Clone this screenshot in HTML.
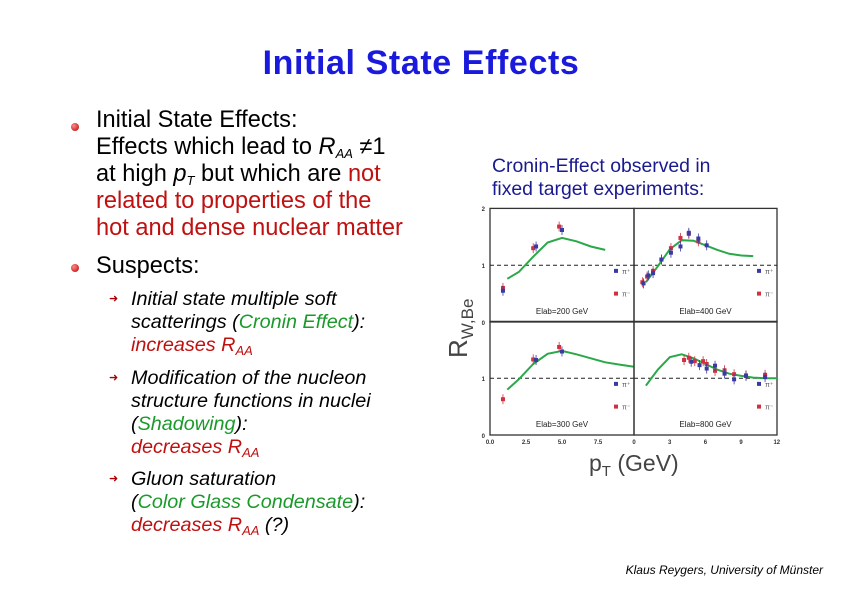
<!DOCTYPE html>
<html><head><meta charset="utf-8"><style>
body{margin:0;width:842px;height:595px;background:#fff;position:relative;overflow:hidden;font-family:"Liberation Sans",sans-serif}
.a{position:absolute;white-space:nowrap}
.m{font-size:23.6px;color:#000;line-height:27px}
.s{font-size:19.8px;font-style:italic;line-height:23px}
.r{color:#c01010}.g{color:#1a9a2a}
sub{font-size:13px;vertical-align:-4px;line-height:0}
.dot{position:absolute;width:8px;height:8px;border-radius:50%;background:radial-gradient(circle at 35% 35%,#f88,#b00)}
.arr{position:absolute;font-size:11px;color:#a00;font-style:normal}
</style></head><body>
<div class="a" style="left:0;width:842px;text-align:center;top:44px;font-size:34px;font-weight:bold;color:#1a1adc;letter-spacing:0.6px">Initial State Effects</div>
<div class="dot" style="left:71px;top:123px"></div>
<div class="a m" style="left:96px;top:107px">Initial State Effects:<br>Effects which lead to <i>R<sub>AA</sub></i> ≠1<br>at high <i>p<sub>T</sub></i> but which are <span class="r">not</span><br><span class="r">related to properties of the</span><br><span class="r">hot and dense nuclear matter</span></div>
<div class="dot" style="left:71px;top:264px"></div>
<div class="a m" style="left:96px;top:253px">Suspects:</div>
<div class="arr" style="left:109px;top:292px">➜</div>
<div class="a s" style="left:131px;top:288px">Initial state multiple soft<br>scatterings (<span class="g">Cronin Effect</span>):<br><span class="r">increases <i>R<sub>AA</sub></i></span></div>
<div class="arr" style="left:109px;top:371px">➜</div>
<div class="a s" style="left:131px;top:367px">Modification of the nucleon<br>structure functions in nuclei<br>(<span class="g">Shadowing</span>):<br><span class="r">decreases <i>R<sub>AA</sub></i></span></div>
<div class="arr" style="left:109px;top:472px">➜</div>
<div class="a s" style="left:131px;top:468px">Gluon saturation<br>(<span class="g">Color Glass Condensate</span>):<br><span class="r">decreases <i>R<sub>AA</sub></i></span> (?)</div>
<div class="a" style="left:492px;top:155px;font-size:19.4px;line-height:23px;color:#1a1a90">Cronin-Effect observed in<br>fixed target experiments:</div>
<div class="a" style="right:19px;top:563px;font-size:12px;font-style:italic">Klaus Reygers, University of Münster</div>
<svg id="c" width="842" height="595" style="position:absolute;left:0;top:0"></svg>
<script>
const p1=[0.9,3.2,5.0], p1y=[0.55,1.33,1.62];
const m1=[0.9,3.0,4.8], m1y=[0.6,1.3,1.68];
const c1=[1.2,2,3,4,5,6,7,8], c1y=[0.76,0.88,1.15,1.4,1.48,1.42,1.33,1.27];
const p2=[0.8,1.2,1.6,2.3,3.1,3.9,4.6,5.4,6.1], p2y=[0.68,0.82,0.86,1.1,1.22,1.33,1.57,1.47,1.35];
const m2=[0.7,1.1,1.6,2.3,3.1,3.9,4.6,5.4], m2y=[0.7,0.8,0.9,1.1,1.3,1.48,1.55,1.42];
const c2=[1,2,3,4,5,6,7,8,9,10], c2y=[0.7,0.98,1.28,1.44,1.43,1.35,1.27,1.2,1.17,1.16];
const p3=[3.2,5.0], p3y=[1.32,1.47];
const m3=[0.9,3.0,4.8], m3y=[0.63,1.33,1.55];
const c3=[1.2,2,3,4,5,6,7,8,9,10], c3y=[0.8,0.98,1.25,1.43,1.48,1.42,1.35,1.28,1.24,1.2];
const p4=[4.8,5.5,6.1,6.8,7.6,8.4,9.4,11], p4y=[1.29,1.23,1.17,1.22,1.08,0.98,1.04,1.02];
const m4=[4.2,4.6,5.1,5.8,6.1,6.8,7.6,8.4,9.4,11], m4y=[1.32,1.36,1.3,1.3,1.25,1.13,1.14,1.07,1.05,1.06];
const c4=[1,2,3,4,5,6,7,8,9,10,11,12], c4y=[0.87,1.15,1.37,1.42,1.35,1.25,1.15,1.08,1.04,1.01,1,1];
const energies=["200","400","300","800"];
const xtL=["0.0","2.5","5.0","7.5"], xtLv=[0,2.5,5,7.5];
const xtR=["0","3","6","9","12"], xtRv=[0,3,6,9,12];
const S=document.getElementById('c'),NS="http://www.w3.org/2000/svg";
function mk(t,a,txt){const e=document.createElementNS(NS,t);for(const k in a)e.setAttribute(k,a[k]);if(txt!=null)e.textContent=txt;S.appendChild(e);return e;}
const panels=[
 {x0:490,x1:634,xmax:10,y0:322,P:[p1,p1y],M:[m1,m1y],C:[c1,c1y]},
 {x0:634,x1:777,xmax:12,y0:322,P:[p2,p2y],M:[m2,m2y],C:[c2,c2y]},
 {x0:490,x1:634,xmax:10,y0:435,P:[p3,p3y],M:[m3,m3y],C:[c3,c3y]},
 {x0:634,x1:777,xmax:12,y0:435,P:[p4,p4y],M:[m4,m4y],C:[c4,c4y]}];
panels.forEach((p,i)=>{
 const X=v=>p.x0+v*(p.x1-p.x0)/p.xmax, Y=v=>p.y0-v*56.8;
 let r=mk('rect',{x:p.x0,y:p.y0-113.6,width:p.x1-p.x0,height:113.6,fill:'none',stroke:'#333','stroke-width':1.3});
 
 let l=mk('line',{x1:p.x0,x2:p.x1,y1:Y(1),y2:Y(1),stroke:'#222','stroke-dasharray':'4,3','stroke-width':1});
 
 let d=p.C[0].map((v,j)=>(j?'L':'M')+X(v).toFixed(1)+','+Y(p.C[1][j]).toFixed(1)).join('');
 let c=mk('path',{d:d,fill:'none',stroke:'#2aa84a','stroke-width':2});
 
 [[p.M,'#d03040'],[p.P,'#3a3aa0']].forEach(([s,col])=>{s[0].forEach((v,j)=>{
  const cx=X(v),cy=Y(s[1][j]);
  mk('line',{x1:cx,x2:cx,y1:cy-5,y2:cy+5,stroke:col,'stroke-width':0.8});
  let q=mk('rect',{x:cx-2,y:cy-2,width:4,height:4,fill:col});
  });});
 const lx=p.x1-20;
 mk('rect',{x:lx,y:Y(0.9)-2,width:4,height:4,fill:'#3a3aa0'});mk('text',{x:lx+8,y:Y(0.9)+3,'font-size':7,fill:'#555'},'π⁺');
 mk('rect',{x:lx,y:Y(0.5)-2,width:4,height:4,fill:'#d03040'});mk('text',{x:lx+8,y:Y(0.5)+3,'font-size':7,fill:'#555'},'π⁻');
 let t=mk('text',{x:(p.x0+p.x1)/2,y:p.y0-8,'font-size':8,'text-anchor':'middle',fill:'#222'},'Elab='+energies[i]+'  GeV');
 
});
[[322,'0'],[265,'1'],[208,'2'],[435,'0'],[378,'1']].forEach(([y,s])=>mk('text',{x:485,y:y+3,'font-size':6,'font-weight':'bold','text-anchor':'end',fill:'#333'},s));
xtL.forEach((s,i)=>mk('text',{x:490+xtLv[i]*14.4,y:444,'font-size':6,'font-weight':'bold','text-anchor':'middle',fill:'#333'},s));
xtR.forEach((s,i)=>mk('text',{x:634+xtRv[i]*11.9,y:444,'font-size':6,'font-weight':'bold','text-anchor':'middle',fill:'#333'},s));
let ya=mk('text',{x:0,y:0,'font-size':26,fill:'#444',transform:'translate(467,358) rotate(-90)'},'');
ya.innerHTML='R<tspan font-size="17" dy="6">W,Be</tspan>';

let xa=mk('text',{x:589,y:471,'font-size':23,fill:'#444'},'');
xa.innerHTML='p<tspan font-size="15" dy="5">T</tspan><tspan dy="-5"> (GeV)</tspan>';

</script>
</body></html>
